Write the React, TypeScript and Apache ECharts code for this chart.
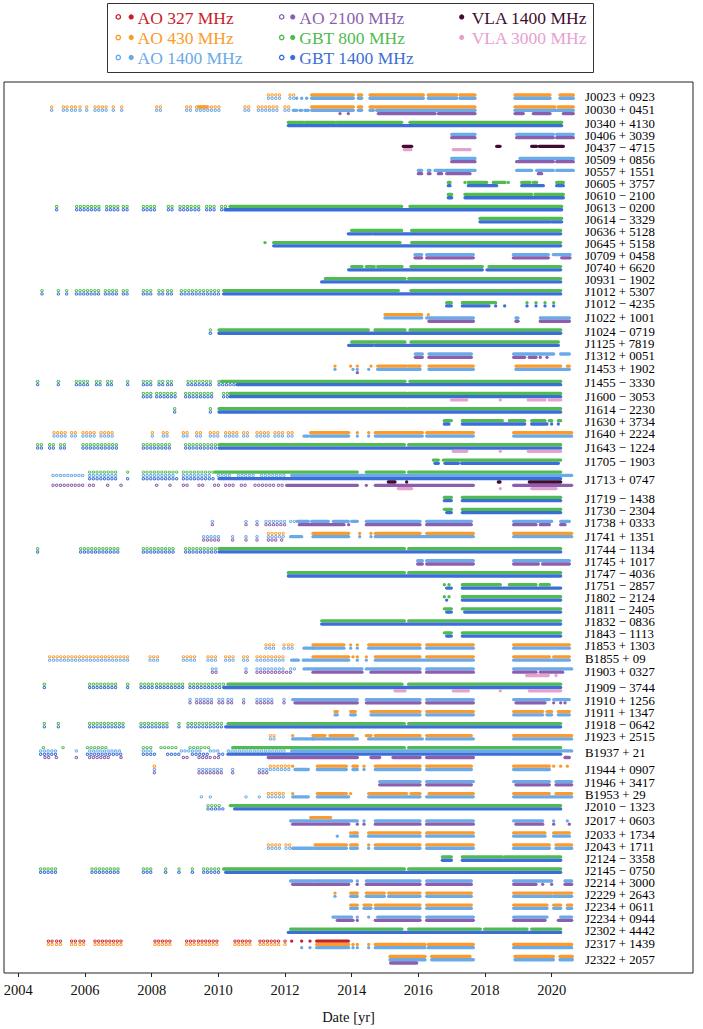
import { useEffect, useRef } from "react";
import * as echarts from "echarts";

// [pulsar, open-marker spans (ASP/GASP), filled-marker spans (PUPPI/GUPPI)], spans as flat [start, end, ...] in years
type Obs = [string, number[], number[]];

const PULSARS = [
  "J0023+0923", "J0030+0451", "J0340+4130", "J0406+3039", "J0437−4715", "J0509+0856", "J0557+1551",
  "J0605+3757", "J0610−2100", "J0613−0200", "J0614−3329", "J0636+5128", "J0645+5158", "J0709+0458",
  "J0740+6620", "J0931−1902", "J1012+5307", "J1012−4235", "J1022+1001", "J1024−0719", "J1125+7819",
  "J1312+0051", "J1453+1902", "J1455−3330", "J1600−3053", "J1614−2230", "J1630+3734", "J1640+2224",
  "J1643−1224", "J1705−1903", "J1713+0747", "J1719−1438", "J1730−2304", "J1738+0333", "J1741+1351",
  "J1744−1134", "J1745+1017", "J1747−4036", "J1751−2857", "J1802−2124", "J1811−2405", "J1832−0836",
  "J1843−1113", "J1853+1303", "B1855+09", "J1903+0327", "J1909−3744", "J1910+1256", "J1911+1347",
  "J1918−0642", "J1923+2515", "B1937+21", "J1944+0907", "J1946+3417", "B1953+29", "J2010−1323",
  "J2017+0603", "J2033+1734", "J2043+1711", "J2124−3358", "J2145−0750", "J2214+3000", "J2229+2643",
  "J2234+0611", "J2234+0944", "J2302+4442", "J2317+1439", "J2322+2057",
];

const RECEIVERS = ["AO 327 MHz", "AO 430 MHz", "AO 1400 MHz", "AO 2100 MHz", "GBT 800 MHz", "GBT 1400 MHz", "VLA 1400 MHz", "VLA 3000 MHz"];
const COLORS = ["#c81e2a", "#fd9a2a", "#6aaae8", "#8c5fae", "#50bb50", "#3b6fd6", "#420c32", "#e6a1cf"];
const HAS_OPEN = [true, true, true, true, true, true, false, false];
const STACK_ORDER = [0, 1, 4, 2, 5, 6, 3, 7];
const TICK_YEARS = [2004, 2006, 2008, 2010, 2012, 2014, 2016, 2018, 2020];

const AO327: Obs[] = [
  ["J2317+1439", [2004.9, 2005.1, 2005.15, 2005.3, 2005.6, 2005.8, 2005.85, 2006.05, 2006.3, 2007.15, 2008.1, 2008.65, 2009.05, 2009.35, 2009.4, 2010.05, 2010.5, 2010.95, 2011.25, 2011.85, 2012.0, 2012.0],
    [2012.2, 2012.2, 2012.5, 2012.5, 2012.75, 2012.75, 2012.95, 2013.9]],
];

const AO430: Obs[] = [
  ["J0023+0923", [2011.5, 2011.85, 2012.15, 2012.3], [2012.8, 2014.05, 2014.2, 2014.3, 2014.55, 2016.15, 2016.3, 2017.15, 2017.25, 2017.7, 2018.9, 2019.95, 2020.25, 2020.65]],
  ["J0030+0451", [2005.0, 2005.1, 2005.35, 2005.5, 2005.6, 2005.75, 2005.85, 2005.85, 2006.05, 2006.05, 2006.3, 2006.65, 2006.85, 2006.85, 2007.1, 2007.1, 2008.15, 2008.3, 2009.05, 2009.2, 2009.35, 2010.05, 2010.8, 2010.95, 2011.2, 2011.8, 2012.0, 2012.2],
    [2009.4, 2009.65, 2012.8, 2014.05, 2014.2, 2014.3, 2014.55, 2014.7, 2014.75, 2017.7, 2018.9, 2020.1, 2020.2, 2020.65]],
  ["J1022+1001", [], [2015.0, 2016.1, 2016.3, 2016.3]],
  ["J1453+1902", [], [2013.5, 2013.5, 2013.97, 2013.97, 2014.17, 2014.17, 2014.58, 2014.58, 2014.78, 2015.65, 2015.71, 2016.05, 2016.32, 2017.65, 2018.93, 2020.27, 2020.47, 2020.53]],
  ["J1640+2224", [2005.07, 2005.47, 2005.6, 2005.74, 2005.94, 2006.34, 2006.48, 2006.88, 2008.02, 2008.02, 2008.35, 2008.48, 2008.95, 2009.09, 2009.35, 2009.56, 2009.76, 2010.02, 2010.22, 2010.56, 2010.76, 2010.89, 2011.16, 2011.5, 2011.7, 2011.97, 2012.1, 2012.3],
    [2012.77, 2013.91, 2014.17, 2014.17, 2014.51, 2014.51, 2014.71, 2016.12, 2016.25, 2017.65, 2018.86, 2020.6]],
  ["J1741+1351", [2011.5, 2012.03], [2012.84, 2013.91, 2014.24, 2014.24, 2014.58, 2014.58, 2014.71, 2016.05, 2016.25, 2017.65, 2018.86, 2020.6]],
  ["J1853+1303", [2011.43, 2011.76, 2011.97, 2011.97, 2012.1, 2012.3], [2012.84, 2013.77, 2013.97, 2013.97, 2014.17, 2014.17, 2014.51, 2016.05, 2016.25, 2017.65, 2018.86, 2020.53]],
  ["B1855+09", [2004.94, 2007.3, 2007.95, 2008.28, 2008.95, 2009.35, 2009.69, 2010.02, 2010.22, 2010.49, 2010.76, 2010.89, 2011.16, 2012.03],
    [2012.84, 2013.91, 2014.04, 2014.04, 2014.17, 2014.17, 2014.44, 2014.44, 2014.71, 2016.05, 2016.25, 2017.65, 2018.86, 2019.93, 2020.06, 2020.53]],
  ["J1911+1347", [], [2013.5, 2013.57, 2013.97, 2014.11, 2014.58, 2016.05, 2016.25, 2017.65, 2018.86, 2019.73, 2019.86, 2020.0, 2020.2, 2020.53]],
  ["J1923+2515", [2011.56, 2011.76], [2012.23, 2012.23, 2012.84, 2013.2, 2013.35, 2014.04, 2014.44, 2014.58, 2014.71, 2016.05, 2016.25, 2017.59, 2018.86, 2020.6]],
  ["J1944+0907", [2008.08, 2008.08, 2011.56, 2012.17], [2012.23, 2012.23, 2012.97, 2013.84, 2014.04, 2014.17, 2014.37, 2014.37, 2014.71, 2016.05, 2016.25, 2017.59, 2018.86, 2019.93, 2020.06, 2020.06, 2020.27, 2020.27, 2020.47, 2020.47]],
  ["B1953+29", [2011.5, 2012.03], [2012.23, 2012.23, 2012.97, 2013.84, 2013.97, 2013.97, 2014.51, 2015.65, 2015.78, 2016.05, 2016.32, 2017.65, 2018.86, 2019.93, 2020.13, 2020.6]],
  ["J2017+0603", [], [2012.77, 2013.37]],
  ["J2033+1734", [], [2013.97, 2013.97, 2014.04, 2014.17, 2014.51, 2016.05, 2016.25, 2017.65, 2018.86, 2019.8, 2020.06, 2020.53]],
  ["J2043+1711", [2011.5, 2011.9, 2012.03, 2012.17], [2012.9, 2013.84, 2013.97, 2014.17, 2014.51, 2014.51, 2014.71, 2016.05, 2016.25, 2017.65, 2018.86, 2019.93, 2020.13, 2020.6]],
  ["J2229+2643", [], [2013.5, 2013.5, 2013.97, 2014.17, 2014.44, 2014.98, 2015.11, 2016.05, 2016.25, 2017.59, 2018.86, 2020.0, 2020.06, 2020.6]],
  ["J2234+0611", [], [2013.97, 2014.17, 2014.37, 2014.58, 2014.71, 2016.05, 2016.25, 2017.59, 2018.86, 2019.86, 2020.06, 2020.27, 2020.47, 2020.6]],
  ["J2317+1439", [2004.9, 2005.1, 2005.15, 2005.3, 2005.6, 2005.8, 2005.85, 2006.05, 2006.3, 2007.15, 2008.1, 2008.65, 2009.05, 2009.35, 2009.4, 2010.05, 2010.5, 2010.95, 2011.25, 2011.85, 2012.0, 2012.0],
    [2012.95, 2013.91, 2014.04, 2014.04, 2014.17, 2014.17, 2014.51, 2014.51, 2014.71, 2016.2, 2016.3, 2017.65, 2018.86, 2020.6]],
  ["J2322+2057", [], [2015.15, 2016.2, 2016.4, 2017.55, 2018.9, 2020.05, 2020.25, 2020.62]],
];

const AO1400: Obs[] = [
  ["J0023+0923", [2011.5, 2011.85, 2012.15, 2012.3], [2012.35, 2012.35, 2012.5, 2012.5, 2012.65, 2012.65, 2012.8, 2014.05, 2014.2, 2014.3, 2014.55, 2016.15, 2016.3, 2017.15, 2017.25, 2017.7, 2018.9, 2019.95, 2020.25, 2020.65]],
  ["J0030+0451", [2005.0, 2005.1, 2005.35, 2005.5, 2005.6, 2005.75, 2005.85, 2005.85, 2006.05, 2006.05, 2006.3, 2006.65, 2006.85, 2006.85, 2007.1, 2007.1, 2008.15, 2008.3, 2009.05, 2009.2, 2009.35, 2010.05, 2010.8, 2010.95, 2011.2, 2011.8, 2012.0, 2012.2],
    [2012.25, 2012.35, 2012.45, 2012.5, 2012.6, 2012.7, 2012.8, 2014.05, 2014.2, 2014.3, 2014.55, 2014.65, 2014.75, 2017.7, 2018.9, 2020.65]],
  ["J0406+3039", [], [2017.0, 2017.7, 2018.95, 2020.05, 2020.15, 2020.65]],
  ["J0509+0856", [], [2017.0, 2017.7, 2019.05, 2020.65]],
  ["J0557+1551", [], [2016.0, 2016.1, 2016.3, 2016.35, 2016.5, 2016.75, 2016.8, 2017.7, 2018.95, 2019.4, 2019.55, 2020.05, 2020.15, 2020.65]],
  ["J0709+0458", [], [2015.9, 2016.1, 2016.25, 2017.65, 2018.85, 2019.9, 2020.05, 2020.55]],
  ["J1022+1001", [], [2015.0, 2016.1, 2016.25, 2017.65, 2018.93, 2018.99, 2019.66, 2020.53]],
  ["J1312+0051", [], [2015.91, 2016.12, 2016.32, 2017.59, 2018.86, 2020.06, 2020.27, 2020.53]],
  ["J1453+1902", [], [2013.5, 2013.5, 2014.04, 2014.04, 2014.17, 2014.17, 2014.51, 2014.51, 2014.78, 2016.05, 2016.32, 2017.65, 2018.93, 2020.53]],
  ["J1640+2224", [2005.07, 2005.47, 2005.6, 2005.74, 2005.94, 2006.34, 2006.48, 2006.88, 2008.02, 2008.02, 2008.35, 2008.48, 2008.95, 2009.09, 2009.35, 2009.56, 2009.76, 2010.02, 2010.22, 2010.56, 2010.76, 2010.89, 2011.16, 2011.5, 2011.7, 2011.97, 2012.1, 2012.3],
    [2012.57, 2012.7, 2012.77, 2013.91, 2014.17, 2014.17, 2014.51, 2014.51, 2014.71, 2016.12, 2016.25, 2017.65, 2018.86, 2020.6]],
  ["J1713+0747", [2005.04, 2006.0, 2006.14, 2007.0, 2007.75, 2008.75, 2008.95, 2009.8, 2010.0, 2010.4, 2010.6, 2011.1, 2011.3, 2012.0], [2012.2, 2020.6]],
  ["J1738+0333", [2009.82, 2009.82, 2010.83, 2010.83, 2011.16, 2011.16, 2011.43, 2012.03, 2012.17, 2012.3],
    [2012.37, 2012.7, 2012.8, 2013.3, 2013.45, 2013.9, 2014.0, 2014.17, 2014.44, 2016.05, 2016.25, 2017.59, 2018.86, 2020.0, 2020.27, 2020.53]],
  ["J1741+1351", [2009.56, 2010.02, 2010.43, 2010.43, 2010.83, 2010.83, 2011.16, 2011.16, 2011.5, 2012.03],
    [2012.17, 2012.5, 2012.84, 2013.91, 2014.24, 2014.24, 2014.58, 2014.58, 2014.71, 2017.65, 2018.86, 2020.6]],
  ["J1745+1017", [], [2015.98, 2016.12, 2016.25, 2017.65, 2018.86, 2020.53]],
  ["J1853+1303", [2011.43, 2011.76, 2011.97, 2011.97, 2012.1, 2012.3], [2012.57, 2012.84, 2012.84, 2013.77, 2013.97, 2013.97, 2014.17, 2014.17, 2014.51, 2016.05, 2016.25, 2017.65, 2018.86, 2020.53]],
  ["B1855+09", [2004.94, 2007.3, 2007.95, 2008.28, 2008.95, 2009.35, 2009.69, 2010.02, 2010.22, 2010.49, 2010.76, 2010.89, 2011.16, 2012.03],
    [2012.2, 2012.4, 2012.55, 2013.91, 2014.17, 2014.17, 2014.44, 2014.44, 2014.71, 2017.65, 2018.86, 2020.53]],
  ["J1903+0327", [2009.82, 2010.02, 2010.83, 2010.83, 2011.16, 2012.03, 2012.17, 2012.37], [2012.57, 2014.31, 2014.44, 2016.05, 2016.25, 2017.65, 2018.86, 2020.6]],
  ["J1910+1256", [2009.15, 2009.15, 2009.35, 2009.82, 2010.02, 2010.16, 2010.29, 2010.49, 2010.76, 2010.76, 2011.16, 2011.7, 2011.97, 2011.97],
    [2012.23, 2014.17, 2014.44, 2016.05, 2016.25, 2017.65, 2018.86, 2019.93, 2020.06, 2020.53]],
  ["J1911+1347", [], [2013.5, 2013.57, 2013.97, 2014.11, 2014.58, 2016.05, 2016.25, 2017.65, 2018.86, 2019.73, 2019.86, 2020.0, 2020.2, 2020.53]],
  ["J1923+2515", [2011.56, 2011.76], [2012.23, 2012.84, 2012.84, 2014.17, 2014.51, 2016.12, 2016.25, 2017.65, 2018.86, 2020.6]],
  ["B1937+21", [2004.67, 2005.14, 2005.74, 2005.74, 2006.14, 2007.08, 2007.75, 2008.02, 2008.89, 2009.49, 2009.76, 2010.02, 2010.3, 2012.0], [2012.2, 2020.6]],
  ["J1944+0907", [2008.08, 2008.08, 2009.42, 2010.09, 2010.43, 2010.43, 2011.23, 2011.5, 2011.56, 2012.17],
    [2012.3, 2012.7, 2012.97, 2013.84, 2014.04, 2014.17, 2014.37, 2014.37, 2014.71, 2016.05, 2016.25, 2017.59, 2018.86, 2019.93]],
  ["J1946+3417", [], [2014.84, 2016.05, 2016.25, 2017.65, 2018.86, 2019.93, 2020.13, 2020.6]],
  ["B1953+29", [2009.49, 2009.49, 2009.76, 2009.76, 2010.83, 2010.83, 2011.23, 2011.23, 2011.5, 2012.03], [2012.23, 2012.7, 2012.97, 2013.91, 2014.51, 2016.05, 2016.25, 2017.65, 2018.86, 2020.6]],
  ["J2017+0603", [], [2012.17, 2014.17, 2014.37, 2014.37, 2014.71, 2016.05, 2016.25, 2017.65, 2018.86, 2019.73, 2020.06, 2020.06, 2020.47, 2020.47]],
  ["J2033+1734", [], [2013.57, 2013.57, 2013.97, 2014.17, 2014.51, 2016.05, 2016.25, 2017.65, 2018.86, 2019.8, 2020.06, 2020.53]],
  ["J2043+1711", [2011.5, 2011.9, 2012.03, 2012.17], [2012.23, 2012.84, 2012.9, 2013.84, 2013.97, 2014.17, 2014.51, 2014.51, 2014.71, 2016.05, 2016.25, 2017.65, 2018.86, 2019.93, 2020.13, 2020.6]],
  ["J2214+3000", [], [2012.17, 2012.84, 2012.9, 2014.0, 2014.17, 2014.17, 2014.44, 2016.05, 2016.25, 2017.59, 2018.86, 2020.0, 2020.4, 2020.6]],
  ["J2229+2643", [], [2013.5, 2013.5, 2013.97, 2014.17, 2014.44, 2014.98, 2015.11, 2016.05, 2016.25, 2017.59, 2018.86, 2020.0, 2020.06, 2020.6]],
  ["J2234+0611", [], [2013.97, 2014.17, 2014.37, 2014.58, 2014.71, 2016.05, 2016.25, 2017.59, 2018.86, 2019.86, 2020.06, 2020.27, 2020.47, 2020.6]],
  ["J2234+0944", [], [2013.44, 2014.0, 2014.17, 2014.17, 2014.51, 2014.51, 2014.78, 2016.05, 2016.25, 2017.65, 2018.86, 2019.86, 2020.27, 2020.6]],
  ["J2317+1439", [], [2012.5, 2012.5, 2012.75, 2012.75, 2012.95, 2013.91, 2014.04, 2014.04, 2014.17, 2014.17, 2014.51, 2014.51, 2014.71, 2016.2, 2016.3, 2017.65, 2018.86, 2020.6]],
  ["J2322+2057", [], [2015.15, 2016.2, 2016.4, 2017.65, 2018.9, 2020.05, 2020.25, 2020.62]],
];

const AO2100: Obs[] = [
  ["J0030+0451", [], [2013.65, 2013.65, 2013.9, 2013.9, 2014.8, 2016.5, 2016.6, 2017.7, 2018.9, 2019.15, 2019.45, 2019.95, 2020.35, 2020.65]],
  ["J0406+3039", [], [2017.0, 2017.7, 2018.95, 2020.05, 2020.15, 2020.65]],
  ["J0509+0856", [], [2017.0, 2017.7, 2018.95, 2020.05, 2020.15, 2020.65]],
  ["J0557+1551", [], [2016.0, 2016.1, 2016.3, 2016.35, 2016.6, 2016.7, 2016.85, 2017.55, 2019.6, 2019.7]],
  ["J0709+0458", [], [2015.9, 2016.1, 2016.25, 2017.65, 2018.85, 2019.9, 2020.3, 2020.55]],
  ["J1022+1001", [], [2016.32, 2017.65, 2018.93, 2018.99, 2019.66, 2020.53]],
  ["J1312+0051", [], [2015.91, 2016.12, 2016.32, 2017.59, 2018.86, 2019.19, 2019.33, 2019.53, 2019.66, 2019.66, 2019.86, 2019.86]],
  ["J1453+1902", [], [2014.17, 2014.17]],
  ["J1713+0747", [2005.04, 2006.0, 2006.14, 2006.28, 2006.68, 2006.68, 2007.08, 2007.08, 2008.15, 2008.15, 2008.55, 2008.55, 2008.95, 2009.09, 2009.42, 2009.56, 2009.89, 2010.02, 2010.22, 2010.49, 2010.69, 2010.83, 2011.1, 2011.7, 2011.8, 2012.0],
    [2012.05, 2014.17, 2014.44, 2014.44, 2014.71, 2017.65, 2018.86, 2020.6]],
  ["J1738+0333", [2009.82, 2009.82, 2010.83, 2010.83, 2011.16, 2011.16, 2011.43, 2012.03],
    [2012.43, 2013.77, 2013.91, 2013.91, 2014.44, 2016.05, 2016.25, 2017.59, 2018.86, 2019.53, 2019.66, 2019.93, 2020.27, 2020.4]],
  ["J1741+1351", [2009.56, 2010.02, 2010.43, 2010.43, 2010.83, 2010.83, 2011.16, 2011.16, 2011.5, 2011.76, 2011.9, 2011.9], []],
  ["J1745+1017", [], [2015.98, 2016.12, 2016.25, 2017.65, 2018.86, 2019.6, 2019.73, 2020.53]],
  ["J1903+0327", [2009.82, 2010.02, 2010.83, 2010.83, 2011.16, 2012.17], [2012.84, 2014.31, 2014.58, 2016.05, 2016.25, 2017.65, 2018.86, 2019.53, 2019.66, 2020.33]],
  ["J1910+1256", [2009.15, 2009.15, 2009.35, 2009.82, 2010.02, 2010.16, 2010.29, 2010.49, 2010.76, 2010.76, 2011.16, 2011.7, 2011.97, 2011.97],
    [2012.3, 2014.17, 2014.44, 2016.05, 2016.25, 2017.65, 2018.93, 2019.8, 2020.06, 2020.06, 2020.27, 2020.27, 2020.4, 2020.4]],
  ["B1937+21", [2004.8, 2004.94, 2005.14, 2005.14, 2005.74, 2005.74, 2006.14, 2006.74, 2007.08, 2007.08, 2008.95, 2009.09, 2009.42, 2009.76, 2009.89, 2010.02],
    [2011.5, 2014.17, 2014.58, 2014.84, 2015.24, 2016.05, 2016.25, 2017.65, 2020.4, 2020.53]],
  ["J1944+0907", [2008.08, 2008.08, 2009.42, 2010.09, 2010.43, 2010.43, 2011.23, 2011.5], []],
  ["J1946+3417", [], [2014.84, 2016.05, 2016.25, 2017.59, 2018.93, 2019.93, 2020.13, 2020.6]],
  ["J2017+0603", [], [2012.23, 2013.91, 2014.17, 2014.17, 2014.37, 2014.37, 2014.71, 2016.05, 2016.25, 2017.65, 2018.93, 2019.73, 2020.06, 2020.06, 2020.53, 2020.53]],
  ["J2214+3000", [], [2012.23, 2013.91, 2014.17, 2014.17, 2014.44, 2016.05, 2016.25, 2017.59, 2018.86, 2019.53, 2019.73, 2019.73, 2020.0, 2020.0, 2020.4, 2020.6]],
  ["J2234+0944", [], [2013.57, 2014.04, 2014.17, 2014.17, 2014.71, 2016.05, 2016.25, 2017.65, 2018.86, 2019.8, 2020.2, 2020.6]],
  ["J2322+2057", [], [2015.17, 2015.95]],
];

const GBT800: Obs[] = [
  ["J0340+4130", [], [2012.1, 2012.55, 2012.6, 2013.5, 2013.55, 2015.5, 2015.75, 2020.3]],
  ["J0605+3757", [], [2016.9, 2016.95, 2017.4, 2017.4, 2017.5, 2018.05, 2018.25, 2018.6, 2018.7, 2018.7, 2019.1, 2019.35, 2019.45, 2019.55, 2020.15, 2020.35]],
  ["J0610−2100", [], [2016.9, 2017.0, 2017.4, 2019.4, 2019.5, 2020.35]],
  ["J0613−0200", [2005.15, 2005.25, 2005.75, 2006.5, 2006.65, 2007.05, 2007.15, 2007.35, 2007.75, 2008.1, 2008.5, 2008.7, 2008.85, 2009.2, 2009.3, 2009.5, 2009.65, 2009.95, 2010.1, 2010.3], [2010.35, 2015.5, 2015.75, 2020.3]],
  ["J0614−3329", [], [2017.85, 2020.3]],
  ["J0636+5128", [], [2014.0, 2015.5, 2015.8, 2020.27]],
  ["J0645+5158", [], [2011.4, 2011.4, 2011.66, 2015.45, 2015.8, 2020.27]],
  ["J0740+6620", [], [2014.0, 2014.31, 2014.44, 2014.68, 2014.78, 2015.51, 2015.78, 2017.92, 2018.12, 2020.27]],
  ["J0931−1902", [], [2013.21, 2015.6, 2015.71, 2020.27]],
  ["J1012+5307", [2004.71, 2004.71, 2005.2, 2005.2, 2005.45, 2005.45, 2005.74, 2006.48, 2006.61, 2007.01, 2007.15, 2007.35, 2007.75, 2008.08, 2008.22, 2008.35, 2008.48, 2008.69, 2008.89, 2009.82, 2009.89, 2010.09], [2010.16, 2015.4, 2015.78, 2020.27]],
  ["J1012−4235", [], [2016.85, 2016.99, 2017.32, 2018.32, 2019.26, 2019.26, 2019.53, 2019.53, 2019.8, 2019.8, 2020.06, 2020.06]],
  ["J1024−0719", [2009.76, 2009.76], [2010.02, 2014.5, 2014.7, 2015.6, 2015.75, 2020.27]],
  ["J1125+7819", [], [2014.0, 2015.6, 2015.78, 2020.2]],
  ["J1455−3330", [2004.58, 2004.58, 2005.2, 2005.2, 2005.74, 2006.14, 2006.34, 2006.48, 2006.68, 2006.81, 2007.28, 2007.28, 2007.75, 2008.02, 2008.22, 2008.35, 2008.48, 2008.69, 2009.09, 2009.82, 2010.02, 2010.02], [2010.09, 2015.6, 2015.75, 2020.27]],
  ["J1600−3053", [2007.75, 2008.08, 2008.15, 2008.42, 2008.48, 2008.75, 2009.02, 2009.82, 2010.16, 2010.3], [2010.36, 2015.65, 2015.71, 2020.27]],
  ["J1614−2230", [2008.69, 2008.69, 2009.76, 2009.76], [2010.02, 2015.65, 2015.71, 2020.27]],
  ["J1630+3734", [], [2016.78, 2016.99, 2017.32, 2018.52, 2018.73, 2019.19, 2019.4, 2019.8, 2019.93, 2020.0, 2020.2, 2020.27]],
  ["J1643−1224", [2004.58, 2004.8, 2004.94, 2005.07, 2005.27, 2005.47, 2005.94, 2007.01, 2007.75, 2008.55, 2009.02, 2009.95], [2010.02, 2015.58, 2015.71, 2020.27]],
  ["J1705−1903", [], [2016.45, 2016.6, 2016.75, 2020.27]],
  ["J1713+0747", [2006.14, 2007.01, 2007.28, 2007.28, 2007.75, 2008.82, 2008.95, 2009.85], [2009.9, 2014.17, 2014.44, 2015.58, 2015.71, 2020.27]],
  ["J1719−1438", [], [2016.78, 2016.99, 2017.32, 2020.27]],
  ["J1730−2304", [], [2016.78, 2016.99, 2017.32, 2020.27]],
  ["J1744−1134", [2004.58, 2004.58, 2005.87, 2007.08, 2007.75, 2008.69, 2009.02, 2009.95], [2010.02, 2015.58, 2015.71, 2020.27]],
  ["J1747−4036", [], [2012.1, 2015.58, 2015.71, 2020.27]],
  ["J1751−2857", [], [2016.78, 2016.78, 2016.92, 2016.92, 2017.32, 2018.46, 2018.73, 2019.53, 2019.66, 2019.93]],
  ["J1802−2124", [], [2016.78, 2016.78, 2016.92, 2016.92, 2017.32, 2020.27]],
  ["J1811−2405", [], [2016.78, 2016.99, 2017.32, 2020.27]],
  ["J1832−0836", [], [2013.1, 2015.58, 2015.71, 2020.27]],
  ["J1843−1113", [], [2016.78, 2016.99, 2017.32, 2020.27]],
  ["J1909−3744", [2004.78, 2004.78, 2006.14, 2007.01, 2007.28, 2007.28, 2007.68, 2008.02, 2008.15, 2008.95, 2009.15, 2010.16], [2010.29, 2015.51, 2015.71, 2020.27]],
  ["J1918−0642", [2004.78, 2004.78, 2005.2, 2005.2, 2006.14, 2007.15, 2007.68, 2008.48, 2008.82, 2008.82, 2009.09, 2010.16], [2010.29, 2015.58, 2015.71, 2020.27]],
  ["B1937+21", [2004.75, 2004.8, 2005.34, 2005.34, 2006.07, 2006.68, 2007.75, 2008.02, 2008.28, 2008.82, 2009.15, 2009.76], [2010.43, 2015.58, 2015.71, 2020.27]],
  ["J2010−1323", [2009.69, 2010.09], [2010.36, 2020.27]],
  ["J2124−3358", [], [2016.72, 2016.99, 2017.32, 2018.52, 2018.59, 2020.27]],
  ["J2145−0750", [2004.67, 2005.14, 2006.21, 2007.01, 2007.75, 2008.02, 2008.42, 2008.42, 2008.82, 2008.82, 2009.22, 2009.22, 2009.56, 2010.02], [2010.16, 2015.58, 2015.71, 2020.27]],
  ["J2302+4442", [], [2012.17, 2015.51, 2015.71, 2017.86, 2017.99, 2019.26, 2019.4, 2020.27]],
];

const GBT1400: Obs[] = [
  ["J0340+4130", [], [2012.1, 2020.3]],
  ["J0605+3757", [], [2016.9, 2016.95, 2017.5, 2018.35, 2019.1, 2019.75, 2020.15, 2020.35]],
  ["J0610−2100", [], [2016.9, 2017.0, 2017.4, 2020.35]],
  ["J0613−0200", [2005.15, 2005.25, 2005.75, 2006.5, 2006.65, 2007.05, 2007.15, 2007.35, 2007.75, 2008.1, 2008.5, 2008.7, 2008.85, 2009.2, 2009.3, 2009.5, 2009.65, 2009.95, 2010.1, 2010.15], [2010.2, 2020.3]],
  ["J0614−3329", [], [2017.85, 2019.95, 2020.0, 2020.3]],
  ["J0636+5128", [], [2013.9, 2014.6, 2014.65, 2020.27]],
  ["J0645+5158", [], [2011.66, 2020.27]],
  ["J0740+6620", [], [2013.91, 2017.92, 2018.06, 2020.27]],
  ["J0931−1902", [], [2013.1, 2020.27]],
  ["J1012+5307", [2004.71, 2004.71, 2005.2, 2005.2, 2005.45, 2005.45, 2005.74, 2006.48, 2006.61, 2007.01, 2007.15, 2007.35, 2007.75, 2008.08, 2008.22, 2008.35, 2008.48, 2008.69, 2008.89, 2009.82, 2009.89, 2010.09], [2010.16, 2020.27]],
  ["J1012−4235", [], [2016.85, 2016.99, 2017.32, 2018.12, 2018.32, 2018.32, 2018.59, 2018.59, 2019.26, 2019.26, 2019.53, 2019.53, 2019.8, 2019.8, 2020.06, 2020.06]],
  ["J1024−0719", [2009.76, 2009.76], [2010.02, 2020.27]],
  ["J1125+7819", [], [2013.91, 2014.64, 2014.71, 2020.2]],
  ["J1455−3330", [2004.58, 2004.58, 2005.2, 2005.2, 2005.74, 2006.14, 2006.34, 2006.48, 2006.68, 2006.81, 2007.28, 2007.28, 2007.75, 2008.02, 2008.22, 2008.35, 2008.48, 2008.69, 2009.09, 2009.82, 2010.02, 2010.49], [2010.56, 2020.27]],
  ["J1600−3053", [2007.75, 2008.08, 2008.15, 2008.42, 2008.48, 2008.75, 2009.02, 2009.82, 2010.16, 2010.3], [2010.36, 2020.27]],
  ["J1614−2230", [2008.69, 2008.69, 2009.76, 2009.76], [2010.02, 2020.27]],
  ["J1630+3734", [], [2016.78, 2016.92, 2017.32, 2019.19, 2019.4, 2019.86, 2020.0, 2020.0, 2020.2, 2020.2]],
  ["J1643−1224", [2004.58, 2004.8, 2004.94, 2005.07, 2005.27, 2005.47, 2005.94, 2007.01, 2007.75, 2008.55, 2009.02, 2009.95], [2010.02, 2020.27]],
  ["J1705−1903", [], [2016.5, 2016.6, 2016.8, 2017.2, 2017.3, 2020.2]],
  ["J1713+0747", [2006.14, 2007.01, 2007.28, 2007.28, 2007.75, 2008.82, 2008.95, 2009.89], [2010.02, 2020.27]],
  ["J1719−1438", [], [2016.78, 2016.99, 2017.32, 2020.27]],
  ["J1730−2304", [], [2016.85, 2016.99, 2017.32, 2020.27]],
  ["J1744−1134", [2004.58, 2004.58, 2005.87, 2007.08, 2007.75, 2008.69, 2009.02, 2009.95], [2010.02, 2020.27]],
  ["J1747−4036", [], [2012.1, 2020.27]],
  ["J1751−2857", [], [2016.85, 2016.99, 2017.32, 2020.27]],
  ["J1802−2124", [], [2016.85, 2016.85, 2017.32, 2020.27]],
  ["J1811−2405", [], [2016.85, 2016.99, 2017.39, 2020.27]],
  ["J1832−0836", [], [2013.1, 2020.27]],
  ["J1843−1113", [], [2016.85, 2016.99, 2017.32, 2020.27]],
  ["J1909−3744", [2004.78, 2004.78, 2006.14, 2007.01, 2007.28, 2007.28, 2007.68, 2008.02, 2008.15, 2008.95, 2009.15, 2010.1], [2010.16, 2020.27]],
  ["J1918−0642", [2004.78, 2004.78, 2005.2, 2005.2, 2006.14, 2007.15, 2007.68, 2008.48, 2008.82, 2008.82, 2009.09, 2010.16], [2010.22, 2020.27]],
  ["B1937+21", [2004.67, 2005.14, 2006.07, 2007.08, 2007.75, 2008.15, 2008.48, 2008.82, 2009.22, 2009.76, 2010.02, 2010.22], [2010.29, 2020.27]],
  ["J2010−1323", [2009.69, 2010.16], [2010.49, 2020.27]],
  ["J2124−3358", [], [2016.72, 2016.99, 2017.32, 2020.27]],
  ["J2145−0750", [2004.67, 2005.14, 2006.21, 2007.01, 2007.75, 2008.02, 2008.42, 2008.42, 2008.82, 2008.82, 2009.22, 2009.22, 2009.56, 2010.02], [2010.22, 2020.27]],
  ["J2302+4442", [], [2012.1, 2020.27]],
];

const VLA1400: Obs[] = [
  ["J0437−4715", [], [2015.55, 2015.8, 2018.35, 2018.45, 2019.4, 2019.55, 2019.63, 2020.35]],
  ["J1713+0747", [], [2015.1, 2015.3, 2015.65, 2015.65, 2018.4, 2018.45, 2019.33, 2020.27]],
];

const VLA3000: Obs[] = [
  ["J0437−4715", [], [2015.58, 2015.78, 2017.05, 2017.55]],
  ["J1600−3053", [], [2017.0, 2017.45, 2018.46, 2018.46, 2019.3, 2019.8, 2019.93, 2020.27]],
  ["J1643−1224", [], [2017.05, 2017.45, 2018.46, 2018.46, 2019.3, 2020.27]],
  ["J1713+0747", [], [2015.4, 2015.8, 2018.46, 2018.46, 2019.4, 2020.13]],
  ["J1903+0327", [], [2019.25, 2019.9, 2020.13, 2020.13]],
  ["J1909−3744", [], [2015.3, 2015.6, 2017.05, 2017.5, 2018.46, 2018.46, 2019.33, 2020.27]],
];

// receiver index order matches RECEIVERS
const BY_RECEIVER: Obs[][] = [AO327, AO430, AO1400, AO2100, GBT800, GBT1400, VLA1400, VLA3000];

const FONT = "'Liberation Serif', 'DejaVu Serif', 'Times New Roman', serif";
const GAP = 2.65; // distance (in line units) between the last line of one pulsar and the first of the next
const PAD_TOP = 3.94;
const PAD_BOTTOM = 3.03;
const LABEL_YEAR = 2021.0;

function buildLayout() {
  const lineY = new Map<string, number>();
  const centers: number[] = [];
  let base = 0;
  PULSARS.forEach((p) => {
    const recs = STACK_ORDER.filter((r) => BY_RECEIVER[r].some((o) => o[0] === p));
    recs.forEach((r, k) => lineY.set(p + "|" + r, base + k));
    const n = Math.max(recs.length, 1);
    centers.push(base + (n - 1) / 2);
    base += n - 1 + GAP;
  });
  return { lineY, centers, last: base - GAP };
}

function fmtName(n: string) {
  return n.replace(/([+−])/, " $1 ");
}

export default function App() {
  const ref = useRef<HTMLDivElement>(null);
  useEffect(() => {
    if (!ref.current) return;
    const chart = echarts.init(ref.current, undefined, { renderer: "svg" });
    const { lineY, centers, last } = buildLayout();

    const spanSeries = STACK_ORDER.map((r) => {
      const data: number[][] = [];
      BY_RECEIVER[r].forEach((o) => {
        const y = lineY.get(o[0] + "|" + r) as number;
        for (let i = 0; i < o[1].length; i += 2) data.push([o[1][i], o[1][i + 1], y, 1]);
        for (let i = 0; i < o[2].length; i += 2) data.push([o[2][i], o[2][i + 1], y, 0]);
      });
      return {
        type: "custom",
        name: RECEIVERS[r],
        silent: true,
        data,
        encode: { x: [0, 1], y: 2 },
        renderItem: (_p: any, api: any) => {
          const s = api.value(0), e = api.value(1), y = api.value(2), open = api.value(3);
          const a = api.coord([s, y]);
          const b = api.coord([e, y]);
          const x2 = Math.max(b[0], a[0] + 0.01);
          const shape = { x1: a[0], y1: a[1], x2, y2: a[1] };
          if (open) {
            return {
              type: "group",
              children: [
                { type: "line", shape, style: { stroke: COLORS[r], lineWidth: 3.4, lineCap: "round", lineDash: [0.01, 3.7] } },
                { type: "line", shape, style: { stroke: "#ffffff", lineWidth: 1.5, lineCap: "round", lineDash: [0.01, 3.7] } },
              ],
            };
          }
          return { type: "line", shape, style: { stroke: COLORS[r], lineWidth: 3.3, lineCap: "round" } };
        },
      };
    });

    const labelSeries = {
      type: "custom",
      silent: true,
      data: centers.map((c, i) => [c, i]),
      encode: { y: 0 },
      renderItem: (_p: any, api: any) => {
        const pt = api.coord([LABEL_YEAR, api.value(0)]);
        return {
          type: "text",
          x: pt[0],
          y: pt[1],
          style: {
            text: fmtName(PULSARS[api.value(1)]),
            fontSize: 12.8,
            fontFamily: FONT,
            fill: "#000",
            align: "left",
            verticalAlign: "middle",
          },
        };
      },
    };

    // legend (matplotlib-style box, 3 columns)
    const legendCols = [
      { recs: [0, 1, 2], openX: 118.3, fillX: 131.2, textX: 137.5 },
      { recs: [3, 4, 5], openX: 281.7, fillX: 292.7, textX: 299.3 },
      { recs: [6, 7], openX: 0, fillX: 461.7, textX: 471.7 },
    ];
    const rowY = [16.9, 37.5, 57.5];
    const legendEls: any[] = [
      { type: "rect", shape: { x: 107.5, y: 3.5, width: 486, height: 69 }, style: { fill: "#fff", stroke: "#333", lineWidth: 1 } },
    ];
    legendCols.forEach((col) => {
      col.recs.forEach((r, i) => {
        const y = rowY[i];
        if (HAS_OPEN[r]) {
          legendEls.push({ type: "circle", shape: { cx: col.openX, cy: y, r: 2.2 }, style: { fill: "#fff", stroke: COLORS[r], lineWidth: 1.3 } });
        }
        legendEls.push({ type: "circle", shape: { cx: col.fillX, cy: y, r: 2.6 }, style: { fill: COLORS[r] } });
        legendEls.push({
          type: "text",
          x: col.textX,
          y: y + 0.6,
          style: { text: RECEIVERS[r], fontSize: 17.5, fontFamily: FONT, fill: COLORS[r], align: "left", verticalAlign: "middle" },
        });
      });
    });

    chart.setOption({
      animation: false,
      backgroundColor: "#fff",
      grid: { left: 4, right: 10, top: 82, bottom: 55, show: true, borderColor: "#222", borderWidth: 1, backgroundColor: "transparent" },
      xAxis: {
        type: "value",
        min: 2003.57,
        max: 2024.24,
        axisLine: { show: false, onZero: false },
        splitLine: { show: false },
        axisTick: { show: true, customValues: TICK_YEARS, length: 4, lineStyle: { color: "#222", width: 1 } },
        axisLabel: {
          customValues: TICK_YEARS,
          formatter: (v: number) => String(Math.round(v)),
          fontSize: 14.5,
          fontFamily: FONT,
          color: "#111",
          margin: 9,
        },
        name: "Date [yr]",
        nameLocation: "middle",
        nameGap: 36,
        nameTextStyle: { fontSize: 14.5, fontFamily: FONT, color: "#111" },
      },
      yAxis: {
        type: "value",
        inverse: true,
        min: -PAD_TOP,
        max: last + PAD_BOTTOM,
        show: false,
        splitLine: { show: false },
      },
      graphic: legendEls,
      series: [...spanSeries, labelSeries],
    });
    return () => chart.dispose();
  }, []);
  return (
    <div
      ref={ref}
      style={{ position: "fixed", left: 0, top: 0, width: 703, height: 1029, background: "#fff" }}
    />
  );
}
